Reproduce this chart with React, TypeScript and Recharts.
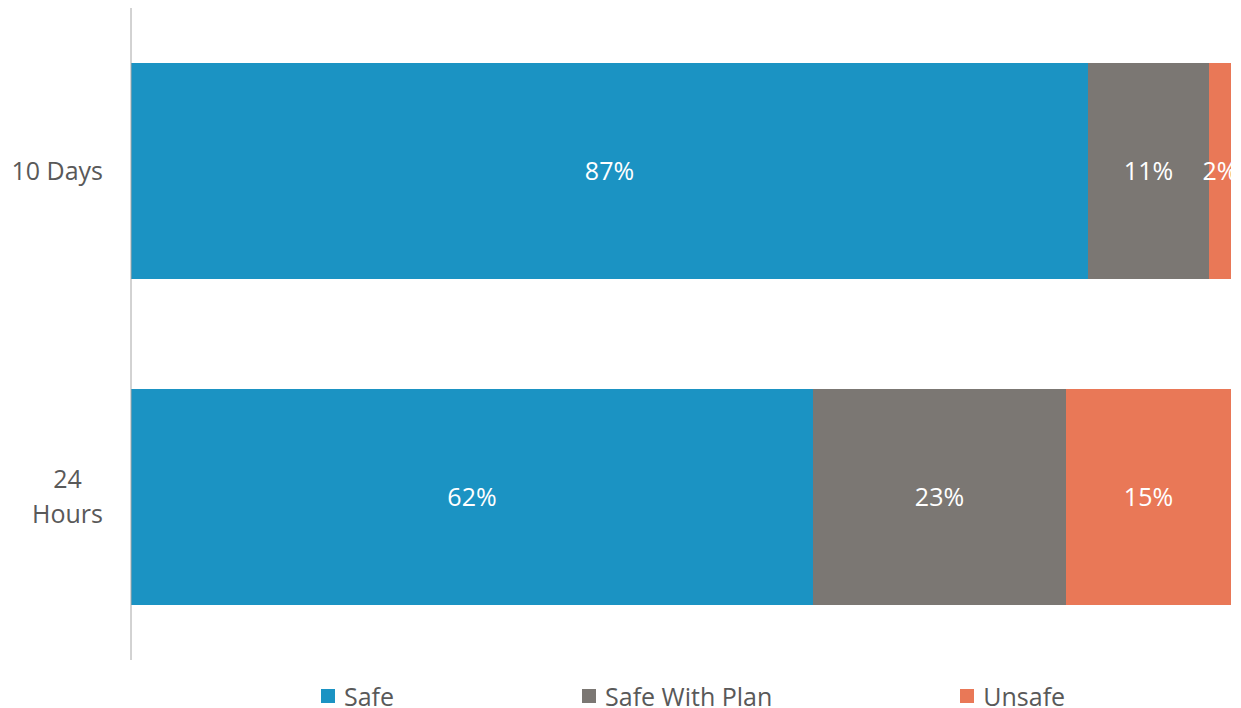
import React from "react";
import { BarChart, Bar, XAxis, YAxis, Legend, LabelList } from "recharts";

const categories = ["10 Days", "24 Hours"];
const safe = [87, 62];
const safeWithPlan = [11, 23];
const unsafe = [2, 15];

const seriesNames = ["Safe", "Safe With Plan", "Unsafe"];
const seriesColors = ["#1B93C3", "#7B7773", "#E97857"];

const data = categories.map((c, i) => ({
  name: c,
  safe: safe[i],
  safeWithPlan: safeWithPlan[i],
  unsafe: unsafe[i],
}));

const FONT = "'Open Sans', 'Noto Sans', sans-serif";
const FS = 25;
const TEXT = "#595959";

let ctx: CanvasRenderingContext2D | null = null;
function measure(s: string) {
  if (!ctx) ctx = document.createElement("canvas").getContext("2d");
  if (!ctx) return s.length * FS * 0.55;
  ctx.font = `${FS}px 'Open Sans'`;
  return ctx.measureText(s).width;
}

function wrap(label: string, maxW: number) {
  const words = label.split(" ");
  const lines: string[] = [];
  let cur = "";
  for (const w of words) {
    const next = cur ? cur + " " + w : w;
    if (cur && measure(next) > maxW) {
      lines.push(cur);
      cur = w;
    } else cur = next;
  }
  if (cur) lines.push(cur);
  return lines;
}

function CategoryTick(props: any) {
  const { x, y, payload } = props;
  const lines = wrap(String(payload.value), 98);
  const lh = 35;
  if (lines.length === 1) {
    return (
      <text x={x} y={y} dy="0.355em" textAnchor="end" fill={TEXT} fontSize={FS} fontFamily={FONT}>
        {lines[0]}
      </text>
    );
  }
  const blockW = Math.max(...lines.map(measure));
  const cx = x - blockW / 2;
  const y0 = y - ((lines.length - 1) * lh) / 2;
  return (
    <text textAnchor="middle" fill={TEXT} fontSize={FS} fontFamily={FONT}>
      {lines.map((l, i) => (
        <tspan key={i} x={cx} y={y0 + i * lh} dy="0.355em">
          {l}
        </tspan>
      ))}
    </text>
  );
}

function LegendContent() {
  return (
    <div
      style={{
        display: "flex",
        alignItems: "center",
        paddingLeft: 321,
        fontFamily: FONT,
        fontSize: FS,
        lineHeight: "24px",
        color: TEXT,
        whiteSpace: "nowrap",
        width: 1241,
        height: 24,
        boxSizing: "border-box",
      }}
    >
      {seriesNames.map((n, i) => (
        <div key={n} style={{ display: "flex", alignItems: "center", flexShrink: 0, marginRight: 188 }}>
          <div style={{ width: 14, height: 14, background: seriesColors[i], marginRight: 9, flexShrink: 0 }} />
          <div style={{ height: 24, lineHeight: "24px" }}>{n}</div>
        </div>
      ))}
    </div>
  );
}

const pct = (v: any) => `${v}%`;

export default function App() {
  return (
    <div style={{ position: "absolute", left: 0, top: 0, width: 1241, height: 708, background: "#fff", overflow: "hidden" }}>
      <BarChart
        width={1241}
        height={708}
        data={data}
        layout="vertical"
        margin={{ top: 8, right: 10, bottom: 48, left: 0 }}
        barSize={216}
      >
        <XAxis type="number" domain={[0, 100]} hide />
        <YAxis
          type="category"
          dataKey="name"
          width={131}
          axisLine={{ stroke: "#A6A6A6", strokeWidth: 1 }}
          tickLine={false}
          tickSize={0}
          tickMargin={28}
          tick={<CategoryTick />}
        />
        <Legend
          layout="horizontal"
          verticalAlign="middle"
          align="center"
          content={<LegendContent />}
          wrapperStyle={{ left: 0, top: 684, width: 1241, height: 24 }}
        />
        {(["safe", "safeWithPlan", "unsafe"] as const).map((k, i) => (
          <Bar key={k} dataKey={k} name={seriesNames[i]} stackId="a" fill={seriesColors[i]} isAnimationActive={false}>
            <LabelList dataKey={k} position="center" formatter={pct} fill="#fff" fontSize={FS} fontFamily={FONT} />
          </Bar>
        ))}
      </BarChart>
    </div>
  );
}
